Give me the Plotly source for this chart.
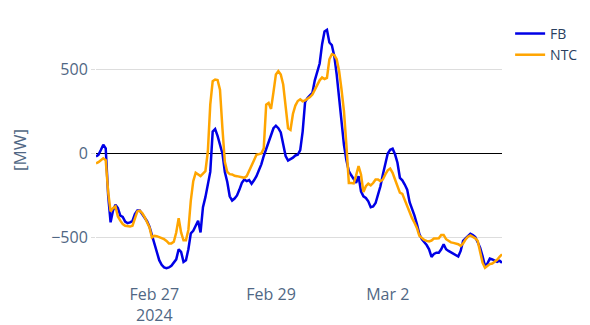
import pandas as pd
import plotly.graph_objects as go

start = "2024-02-26 00:00"
n_hours = 168

fb_mw = [
    -18, -8, 20, 52, 30, -250, -410, -340, -305, -325,
    -370, -378, -405, -415, -410, -402, -360, -340, -340, -362,
    -388, -403, -435, -485, -540, -595, -635, -662, -678, -682,
    -678, -668, -652, -630, -570, -585, -645, -635, -570, -475,
    -460, -425, -400, -470, -320, -260, -180, -110, 130, 145,
    105, 53, 0, -110, -170, -255, -280, -268, -250, -215,
    -175, -155, -165, -158, -180, -160, -135, -100, -65, -15,
    25, 75, 110, 150, 165, 150, 125, 60, -15, -42,
    -35, -25, -12, -8, 20, 130, 305, 330, 345, 360,
    435, 490, 535, 650, 725, 735, 660, 645, 580, 470,
    340, 170, 50, -40, -105, -130, -150, -175, -135, -225,
    -255, -265, -285, -320, -315, -295, -245, -195, -125, -60,
    0, 22, 28, -5, -55, -145, -160, -185, -215, -290,
    -325, -370, -420, -480, -510, -525, -545, -570, -615, -598,
    -590, -590, -570, -540, -570, -580, -588, -594, -602, -613,
    -580, -520, -505, -492, -478, -485, -497, -528, -560, -610,
    -670, -655, -625, -630, -640, -645, -638, -650,
]

ntc_mw = [
    -59, -52, -40, -29, -40, -230, -345, -325, -315, -375,
    -400, -420, -430, -432, -435, -430, -385, -345, -340, -355,
    -378, -405, -440, -500, -490, -492, -498, -503, -510, -520,
    -535, -535, -525, -470, -385, -470, -517, -517, -455, -280,
    -165, -115, -125, -135, -120, -105, 10, 290, 430, 440,
    437, 380, 150, -50, -110, -123, -125, -133, -135, -138,
    -143, -145, -135, -100, -68, -40, -8, -2, 0, 30,
    290, 300, 265, 365, 470, 490, 470, 410, 280, 150,
    140, 235, 285, 312, 322, 310, 315, 324, 335, 350,
    380, 410, 435, 452, 443, 450, 560, 590, 585, 560,
    490, 380, 250, 50, -176, -176, -178, -130, -75, -125,
    -230, -195, -180, -190, -176, -155, -155, -165, -155, -125,
    -100, -90, -115, -155, -195, -233, -240, -275, -318, -355,
    -385, -412, -443, -490, -505, -515, -520, -523, -518, -506,
    -506, -505, -485, -485, -510, -520, -529, -532, -534, -540,
    -550, -535, -512, -495, -488, -497, -505, -520, -594, -650,
    -680, -668, -658, -655, -645, -633, -615, -600,
]

times = pd.date_range(start, periods=n_hours, freq="h")

fig = go.Figure()
fig.add_trace(go.Scatter(x=times, y=fb_mw, mode="lines", name="FB",
                         line=dict(color="#0000e6", width=2.5)))
fig.add_trace(go.Scatter(x=times, y=ntc_mw, mode="lines", name="NTC",
                         line=dict(color="#ffa500", width=2.5)))

fig.update_layout(
    width=590, height=325,
    template="plotly_white",
    margin=dict(l=88, r=96, t=10, b=56),
    font=dict(family="Open Sans, sans-serif", size=16, color="#2a3f5f"),
    legend=dict(x=1.02, y=1.02, font=dict(size=14, color="#2a3f5f")),
    showlegend=True,
)
fig.update_xaxes(showgrid=False, range=[times[0], times[-1]],
                 automargin=False,
                 ticks="outside", ticklen=3, tickcolor="rgba(0,0,0,0)",
                 tickfont=dict(size=16, color="#506784"))
fig.update_yaxes(title=dict(text="[MW]", font=dict(size=17, color="#506784"),
                            standoff=22),
                 range=[-735, 776], tickvals=[-500, 0, 500],
                 gridcolor="#dddddd", zeroline=True, zerolinecolor="black",
                 zerolinewidth=1, tickfont=dict(size=16, color="#506784"),
                 ticks="outside", ticklen=4, tickcolor="#dddddd")

fig.write_html("out.html")
